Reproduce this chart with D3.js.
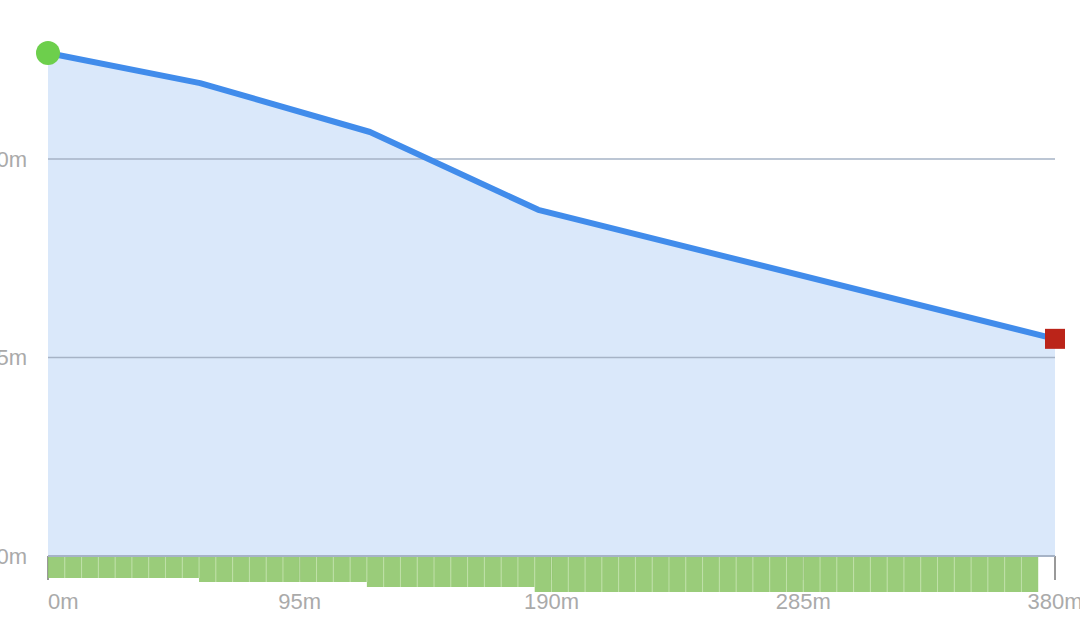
<!DOCTYPE html>
<html>
<head>
<meta charset="utf-8">
<script src="https://cdn.jsdelivr.net/npm/d3@7"></script>
<style>
  html, body { margin: 0; padding: 0; background: #fff; }
  svg { display: block; font-family: "Liberation Sans", Arial, sans-serif; }
</style>
</head>
<body>
<svg id="chart" width="1080" height="640"></svg>
<script>
// Elevation profile (distance in m, elevation in m)
const distances = [0, 57.4, 121.5, 185, 380];
const elevations = [12.67, 11.91, 10.68, 8.72, 5.47];
// Segment grade indicator bars (below the axis)
const barGroups = [
  { count: 9, value: 2.1 },
  { count: 10, value: 2.5 },
  { count: 10, value: 3.0 },
  { count: 30, value: 3.5 }
];
const barStep = 380 / 60; // metres per bar
const xTicks = [0, 95, 190, 285, 380];
const yTicks = [0, 5, 10];

const svg = d3.select("#chart");
const margin = { left: 48, right: 25 };
const W = 1080;

const x = d3.scaleLinear().domain([0, 380]).range([margin.left, W - margin.right]);
const y = d3.scaleLinear().domain([0, 10]).range([556, 159]);
const depth = d3.scaleLinear().domain([0, 1]).range([0, 10]);

// area
const area = d3.area().x((d, i) => x(distances[i])).y0(y(0)).y1((d) => y(d));
svg.append("path").datum(elevations).attr("d", area).attr("fill", "#dae8fa");

// grid lines
svg.append("g").selectAll("line").data(yTicks.filter(t => t > 0)).join("line")
  .attr("x1", x(0)).attr("x2", x(380))
  .attr("y1", d => y(d)).attr("y2", d => y(d))
  .attr("stroke", "#a6b3c6").attr("stroke-width", 1.5);

// x ticks (under bars)
svg.append("g").selectAll("line").data(xTicks).join("line")
  .attr("x1", d => x(d)).attr("x2", d => x(d))
  .attr("y1", y(0)).attr("y2", y(0) + 24)
  .attr("stroke", "#999").attr("stroke-width", 2);

// bars
const bars = [];
let idx = 0;
barGroups.forEach(g => {
  for (let k = 0; k < g.count; k++) { bars.push({ i: idx, v: g.value }); idx++; }
});
svg.append("g").selectAll("rect").data(bars).join("rect")
  .attr("x", d => x(d.i * barStep))
  .attr("width", d => x((d.i + 1) * barStep) - x(d.i * barStep))
  .attr("y", y(0) + 1)
  .attr("height", d => depth(d.v))
  .attr("fill", "#8fc66b")
  .attr("fill-opacity", 0.9);
// separators
svg.append("g").selectAll("line").data(bars.slice(1)).join("line")
  .attr("x1", d => x(d.i * barStep)).attr("x2", d => x(d.i * barStep))
  .attr("y1", y(0) + 1).attr("y2", d => y(0) + 1 + Math.min(depth(d.v), depth(bars[d.i - 1].v)))
  .attr("stroke", "#bfe0a8").attr("stroke-width", 1);

// axis baseline
svg.append("line").attr("x1", x(0)).attr("x2", x(380))
  .attr("y1", y(0)).attr("y2", y(0))
  .attr("stroke", "#a6b3c6").attr("stroke-width", 2);

// line
const line = d3.line().x((d, i) => x(distances[i])).y(d => y(d));
svg.append("path").datum(elevations).attr("d", line)
  .attr("fill", "none").attr("stroke", "#418ceb").attr("stroke-width", 6)
  .attr("stroke-linejoin", "round");

// start marker
svg.append("circle").attr("cx", x(distances[0])).attr("cy", y(elevations[0]))
  .attr("r", 12).attr("fill", "#6dcf4c");
// end marker
const ex = x(distances[distances.length - 1]), ey = y(elevations[elevations.length - 1]);
svg.append("rect").attr("x", ex - 10).attr("y", ey - 10).attr("width", 20).attr("height", 20)
  .attr("fill", "#bb2419");

// y labels
svg.append("g").selectAll("text").data(yTicks).join("text")
  .attr("x", 27).attr("y", d => y(d)).attr("dy", "0.36em")
  .attr("text-anchor", "end")
  .attr("font-size", 22).attr("fill", "#aaaaaa")
  .text(d => d + "m");

// x labels
svg.append("g").selectAll("text").data(xTicks).join("text")
  .attr("x", d => x(d)).attr("y", 609)
  .attr("text-anchor", (d, i) => i === 0 ? "start" : "middle")
  .attr("font-size", 22).attr("fill", "#aaaaaa")
  .text(d => d + "m");
</script>
</body>
</html>
